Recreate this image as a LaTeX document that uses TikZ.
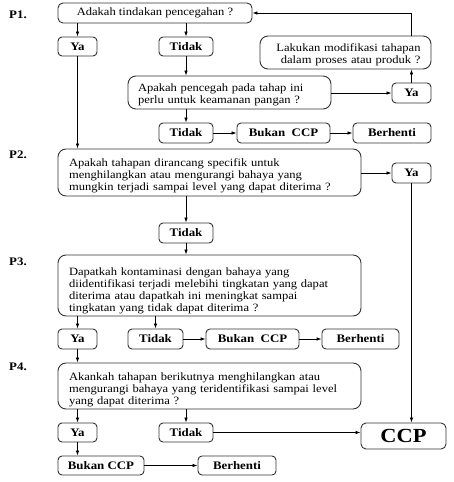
\documentclass[tikz,border=0pt]{standalone}
\usepackage{fontspec}
\setmainfont{Liberation Serif}[FakeStretch=1.12]
\usetikzlibrary{arrows.meta}
% invisible strut that pushes the question text down in its box
\newcommand{\topgap}[1]{\rule{0pt}{#1pt}}

\begin{document}
\begin{tikzpicture}[x=1pt,y=-1pt,
    box/.style={draw=black!80, line width=0.9pt, rounded corners=4pt, inner sep=0pt,
        font=\fontsize{11.5}{12}\selectfont\bfseries},
    qbox/.style={draw=black!80, line width=0.9pt, rounded corners=8pt, inner xsep=11pt,
        inner ysep=0pt, align=left, font=\fontsize{11.2}{12.2}\selectfont},
    arr/.style={-{Latex[length=5pt,width=3.6pt]}, line width=0.8pt},
    plabel/.style={font=\fontsize{11.5}{12}\selectfont\bfseries}]
    \useasboundingbox (0,0) rectangle (453,482);
    % step labels
    \node[plabel] (p1) at (18,15) {P1.};
    \node[plabel] (p2) at (18,155) {P2.};
    \node[plabel] (p3) at (18,262) {P3.};
    \node[plabel] (p4) at (18,367) {P4.};
    % P1
    \node[qbox, align=center, inner xsep=0pt, minimum width=194pt, minimum height=20pt, rounded corners=5pt] (q1) at (155,13) {Adakah tindakan pencegahan ?};
    \node[box, minimum width=39pt, minimum height=19pt] (ya1) at (77.5,46.5) {Ya};
    \node[box, minimum width=54pt, minimum height=19pt] (tidak1) at (186,46.5) {Tidak};
    \node[qbox, align=right, inner xsep=10.5pt, text width=150pt, minimum height=33pt] (modif) at (345.5,52.5) {\topgap{12.5}Lakukan modifikasi tahapan\\dalam proses atau produk ?};
    \node[qbox, inner xsep=10pt, text width=183pt, minimum height=33pt] (q1b) at (229.5,92.5) {\topgap{12}Apakah pencegah pada tahap ini\\perlu untuk keamanan pangan ?};
    \node[box, minimum width=39pt, minimum height=20pt] (ya2) at (411.5,93) {Ya};
    \node[box, minimum width=54pt, minimum height=20pt] (tidak2) at (186,133) {Tidak};
    \node[box, minimum width=93pt, minimum height=20pt] (bukan1) at (283.5,133) {Bukan~ CCP};
    \node[box, minimum width=78pt, minimum height=20pt] (berhenti1) at (392,133) {Berhenti};
    % P2
    \node[qbox, text width=281pt, minimum height=47pt] (q2) at (209.5,172.5) {\topgap{14}Apakah tahapan dirancang specifik untuk\\menghilangkan atau mengurangi bahaya yang\\mungkin terjadi sampai level yang dapat diterima ?};
    \node[box, minimum width=39pt, minimum height=20pt] (ya3) at (411.5,173) {Ya};
    \node[box, minimum width=54pt, minimum height=20pt] (tidak3) at (186,233) {Tidak};
    % P3
    \node[qbox, text width=281pt, minimum height=61pt] (q3) at (209.5,285.5) {\topgap{18.5}Dapatkah kontaminasi dengan bahaya yang\\diidentifikasi terjadi melebihi tingkatan yang dapat\\diterima atau dapatkah ini meningkat sampai\\tingkatan yang tidak dapat diterima ?};
    \node[box, minimum width=39pt, minimum height=20pt] (ya4) at (77.5,339) {Ya};
    \node[box, minimum width=55pt, minimum height=20pt] (tidak4) at (155.5,339) {Tidak};
    \node[box, minimum width=93pt, minimum height=20pt] (bukan2) at (252.5,339) {Bukan~ CCP};
    \node[box, minimum width=77pt, minimum height=20pt] (berhenti2) at (360.5,339) {Berhenti};
    % P4
    \node[qbox, text width=281pt, minimum height=46pt] (q4) at (209.5,386) {\topgap{16}Akankah tahapan berikutnya menghilangkan atau\\mengurangi bahaya yang teridentifikasi sampai level\\yang dapat diterima ?};
    \node[box, minimum width=39pt, minimum height=19pt] (ya5) at (77.5,432.5) {Ya};
    \node[box, minimum width=54pt, minimum height=19pt] (tidak5) at (186,432.5) {Tidak};
    \node[box, minimum width=85pt, minimum height=26pt, rounded corners=5pt, font=\fontsize{20}{22}\selectfont\bfseries] (ccp) at (403.5,436) {CCP};
    \node[box, minimum width=86pt, minimum height=19pt] (bukan3) at (101,465.5) {Bukan CCP};
    \node[box, minimum width=78pt, minimum height=19pt] (berhenti3) at (237,465.5) {Berhenti};
    % connectors P1
    \draw[arr] (q1.south -| ya1) -- (ya1.north);
    \draw[arr] (q1.south -| tidak1) -- (tidak1.north);
    \draw[arr] (tidak1.south) -- (tidak1 |- q1b.north);
    \draw[arr] (q1b.east |- ya2) -- (ya2.west);
    \draw[arr] (ya2.north) -- (ya2 |- modif.south);
    \draw[arr] (ya2 |- modif.north) |- (q1.east);
    \draw[arr] (tidak2 |- q1b.south) -- (tidak2.north);
    \draw[arr] (tidak2.east) -- (bukan1.west);
    \draw[arr] (bukan1.east) -- (berhenti1.west);
    \draw[arr] (ya1.south) -- (ya1 |- q2.north);
    % connectors P2
    \draw[arr] (q2.east |- ya3) -- (ya3.west);
    \draw[arr] (ya3.south) -- (ya3 |- ccp.north);
    \draw[arr] (tidak3 |- q2.south) -- (tidak3.north);
    \draw[arr] (tidak3.south) -- (tidak3 |- q3.north);
    % connectors P3
    \draw[arr] (q3.south -| ya4) -- (ya4.north);
    \draw[arr] (q3.south -| tidak4) -- (tidak4.north);
    \draw[arr] (tidak4.east) -- (bukan2.west);
    \draw[arr] (bukan2.east) -- (berhenti2.west);
    \draw[arr] (ya4.south) -- (ya4 |- q4.north);
    % connectors P4
    \draw[arr] (q4.south -| ya5) -- (ya5.north);
    \draw[arr] (q4.south -| tidak5) -- (tidak5.north);
    \draw[arr] (tidak5.east) -- (tidak5 -| ccp.west);
    \draw[arr] (ya5.south) -- (ya5 |- bukan3.north);
    \draw[arr] (bukan3.east) -- (berhenti3.west);
\end{tikzpicture}
\end{document}
